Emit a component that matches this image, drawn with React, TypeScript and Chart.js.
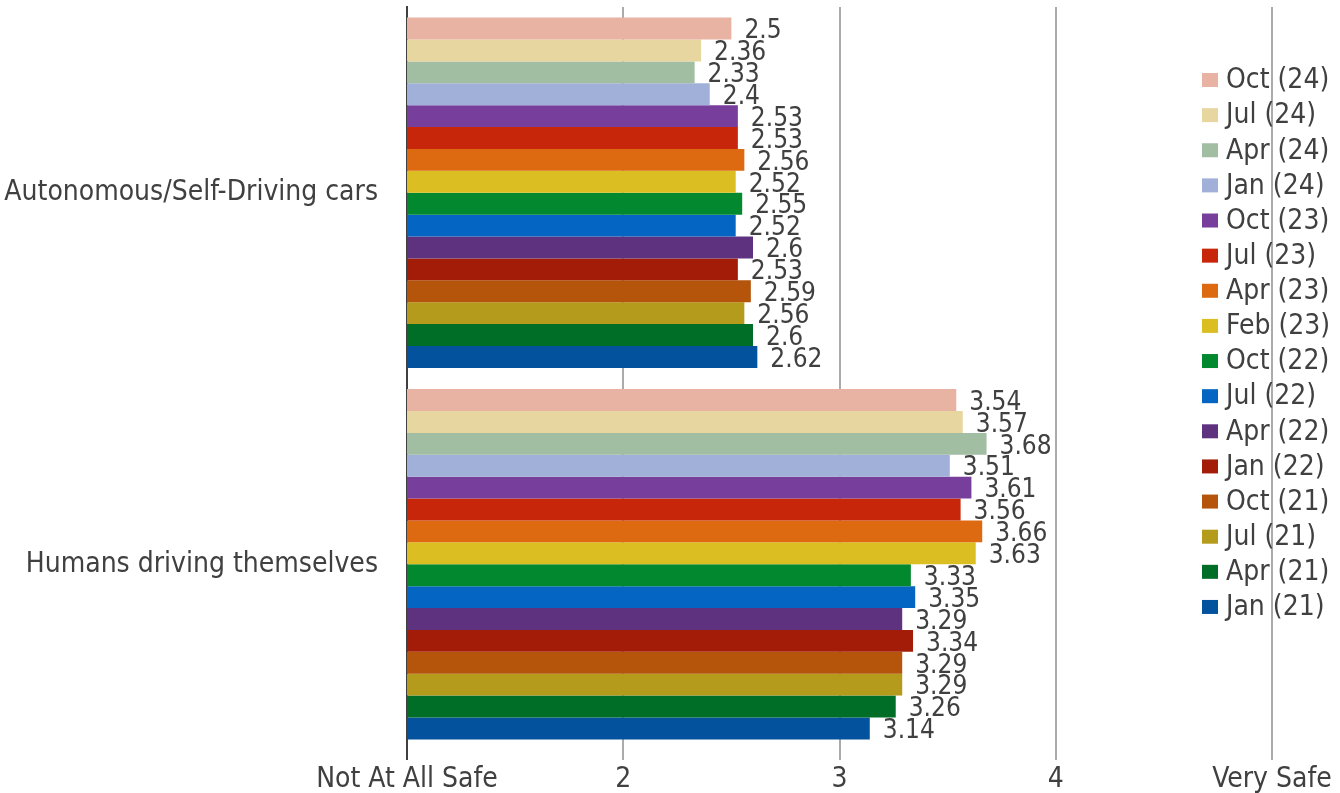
import React, { useEffect, useRef } from "react";
import { Chart, registerables } from "chart.js";

Chart.register(...registerables);

const categories = ["Autonomous/Self-Driving cars", "Humans driving themselves"];
const seriesNames = [
  "Oct (24)", "Jul (24)", "Apr (24)", "Jan (24)", "Oct (23)", "Jul (23)", "Apr (23)", "Feb (23)",
  "Oct (22)", "Jul (22)", "Apr (22)", "Jan (22)", "Oct (21)", "Jul (21)", "Apr (21)", "Jan (21)",
];
const autonomousValues = [2.5, 2.36, 2.33, 2.4, 2.53, 2.53, 2.56, 2.52, 2.55, 2.52, 2.6, 2.53, 2.59, 2.56, 2.6, 2.62];
const humanValues = [3.54, 3.57, 3.68, 3.51, 3.61, 3.56, 3.66, 3.63, 3.33, 3.35, 3.29, 3.34, 3.29, 3.29, 3.26, 3.14];
const seriesColors = [
  "#E9B3A3", "#E8D6A0", "#A1BDA2", "#A0B0D8", "#773E9C", "#C8260A", "#DD6A10", "#DBBF22",
  "#02882E", "#0466C2", "#5F3280", "#A31C07", "#B5540B", "#B49B1C", "#006E26", "#03529E",
];
const tickLabels: Record<number, string> = { 1: "Not At All Safe", 2: "2", 3: "3", 4: "4", 5: "Very Safe" };

const FONT_FAMILY = "'DejaVu Sans Condensed', 'DejaVu Sans', sans-serif";
const TEXT_SIZE = 28;
const VALUE_SIZE = 26;
const TEXT_COLOR = "#404040";

const dataLabelPlugin = {
  id: "dataLabels",
  afterDatasetsDraw(chart: any) {
    const ctx = chart.ctx;
    ctx.save();
    ctx.font = `${VALUE_SIZE}px ${FONT_FAMILY}`;
    ctx.fillStyle = TEXT_COLOR;
    ctx.textAlign = "left";
    ctx.textBaseline = "middle";
    chart.data.datasets.forEach((ds: any, di: number) => {
      const meta = chart.getDatasetMeta(di);
      meta.data.forEach((bar: any, i: number) => {
        ctx.fillText(String(ds.data[i]), bar.x + 13, bar.y + 3);
      });
    });
    ctx.restore();
  },
};

const legendPlugin = {
  id: "customLegend",
  afterDraw(chart: any) {
    const ctx = chart.ctx;
    ctx.save();
    ctx.font = `${TEXT_SIZE}px ${FONT_FAMILY}`;
    ctx.textAlign = "left";
    ctx.textBaseline = "middle";
    const startY = 80;
    const step = 35.13;
    chart.data.datasets.forEach((ds: any, i: number) => {
      const y = startY + i * step;
      ctx.fillStyle = ds.backgroundColor;
      ctx.fillRect(1202, y - 7, 16, 14);
      ctx.fillStyle = TEXT_COLOR;
      ctx.fillText(ds.label, 1226, y + 1);
    });
    ctx.restore();
  },
};

export default function App() {
  const canvasRef = useRef<HTMLCanvasElement | null>(null);

  useEffect(() => {
    if (!canvasRef.current) return;
    const chart = new Chart(canvasRef.current, {
      type: "bar",
      data: {
        labels: categories,
        datasets: seriesNames.map((name, i) => ({
          label: name,
          data: [autonomousValues[i], humanValues[i]],
          backgroundColor: seriesColors[i],
          borderWidth: 0,
          categoryPercentage: 0.943,
          barPercentage: 1,
        })),
      },
      options: {
        indexAxis: "y",
        animation: false,
        responsive: true,
        maintainAspectRatio: false,
        layout: { padding: { top: 7, right: 68, left: 0, bottom: 0 } },
        plugins: {
          legend: { display: false },
          tooltip: { enabled: false },
        },
        scales: {
          x: {
            min: 1,
            max: 5,
            afterFit(scale: any) {
              scale.height = 43;
              scale.paddingLeft = 0;
              scale.paddingRight = 0;
            },
            ticks: {
              stepSize: 1,
              padding: 3,
              color: TEXT_COLOR,
              font: { family: FONT_FAMILY, size: TEXT_SIZE },
              maxRotation: 0,
              callback: (v: any) => tickLabels[Number(v)] ?? String(v),
            },
            grid: {
              color: (c: any) => (c.index === 0 ? TEXT_COLOR : "#ABABAB"),
              lineWidth: 2,
              drawTicks: true,
              tickLength: 10,
            },
            border: { display: false },
          },
          y: {
            afterFit(scale: any) {
              scale.width = 407;
              scale.paddingTop = 0;
              scale.paddingBottom = 0;
            },
            ticks: {
              padding: 29,
              color: TEXT_COLOR,
              font: { family: FONT_FAMILY, size: TEXT_SIZE },
            },
            grid: { display: false, drawTicks: false },
            border: { display: true, color: TEXT_COLOR, width: 2 },
          },
        },
      },
      plugins: [dataLabelPlugin, legendPlugin],
    });
    return () => chart.destroy();
  }, []);

  return (
    <div style={{ position: "absolute", left: 0, top: 0, width: 1340, height: 793, background: "#fff" }}>
      <canvas ref={canvasRef} />
    </div>
  );
}
